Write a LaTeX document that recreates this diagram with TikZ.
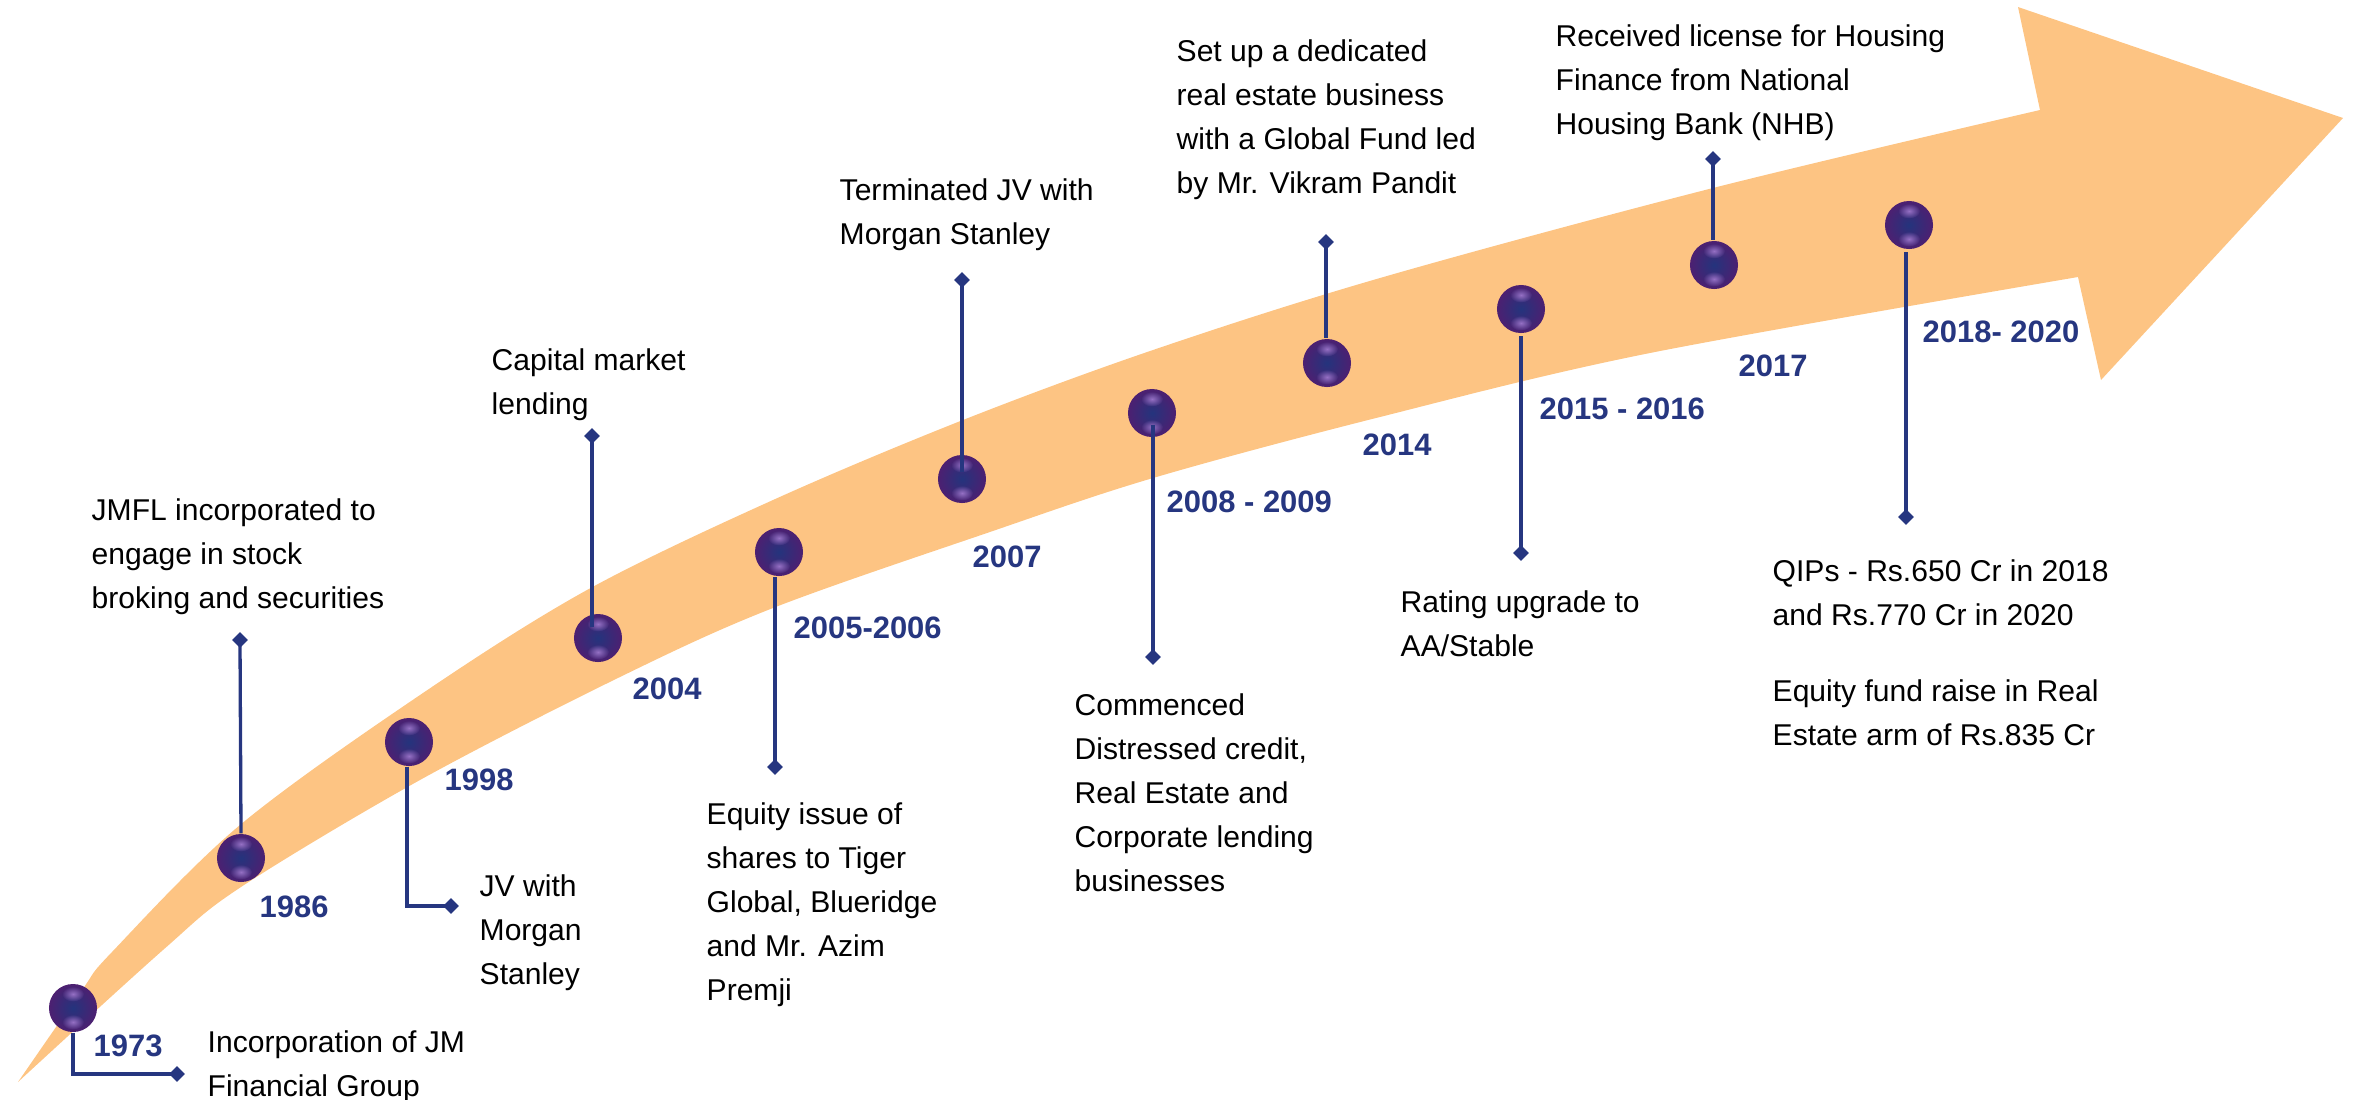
\documentclass[tikz,border=0pt]{standalone}
\usepackage{fontspec}
\setmainfont{Liberation Sans}
\usetikzlibrary{shapes.geometric,fadings}
\definecolor{bandorange}{RGB}{253,196,131}
\definecolor{navyline}{RGB}{38,54,128}
\definecolor{ballrim}{RGB}{80,30,112}
\definecolor{ballmid}{RGB}{36,52,125}
\definecolor{ballhi}{RGB}{165,125,210}
\newcommand\notefont{\fontsize{8.55pt}{12.5pt}\selectfont}
\newcommand\yearfont{\fontsize{8.8pt}{10pt}\selectfont\bfseries}
\tikzfading[name=softspot, inner color=transparent!15, outer color=transparent!100]
\tikzset{
  ball/.style={circle, minimum size=0.48cm, inner sep=0pt,
    path picture={
      \shade [inner color=ballmid, outer color=ballrim] (path picture bounding box.center) circle (0.26cm);
      \fill [ballhi, path fading=softspot] ([yshift=0.14cm]path picture bounding box.center) ellipse (0.11cm and 0.075cm);
      \fill [ballhi, path fading=softspot] ([yshift=-0.14cm]path picture bounding box.center) ellipse (0.11cm and 0.075cm);
    }},
  dmd/.style={diamond, fill=navyline, inner sep=0pt, minimum size=0.165cm},
  link/.style={draw=navyline, line width=0.033cm},
  year/.style={anchor=west, inner sep=0pt, font=\yearfont, text=navyline},
  note/.style={anchor=base west, align=left, inner sep=0pt, font=\notefont}
}
\begin{document}
\begin{tikzpicture}[x=0.01cm, y=-0.01cm]
\useasboundingbox (0,0) rectangle (2353,1099);
\fill [bandorange] plot [smooth, tension=0.55] coordinates {(18,1082) (82,990) (112,952) (240,825) (420,695) (587,590) (773,500) (963,420) (1153,350) (1380,278) (1713,188) (2040,110)}
  -- (2018,7) -- (2343,118) -- (2101,380)
  -- plot [smooth, tension=0.55] coordinates {(2078,277) (1650,353) (1380,417) (1153,478) (987,533) (773,608) (620,677) (420,780) (241,887) (163,950) (18,1082)} -- cycle;

\node [ball] (b1973) at (73,1008) {};
\node [ball] (b1986) at (241,858) {};
\node [ball] (b1998) at (409,742) {};
\node [ball] (b2004) at (598,638) {};
\node [ball] (b2006) at (779,552) {};
\node [ball] (b2007) at (962,479) {};
\node [ball] (b2009) at (1152,413) {};
\node [ball] (b2014) at (1327,363) {};
\node [ball] (b2016) at (1521,309) {};
\node [ball] (b2017) at (1714,265) {};
\node [ball] (b2020) at (1909,225) {};

\coordinate (d1973) at (177,1074);
\coordinate (d1986) at (240,640);
\coordinate (d1998) at (451,906);
\coordinate (d2004) at (592,436);
\coordinate (d2006) at (775,767);
\coordinate (d2007) at (962,280);
\coordinate (d2009) at (1153,657);
\coordinate (d2014) at (1326,242);
\coordinate (d2016) at (1521,553);
\coordinate (d2017) at (1713,159);
\coordinate (d2020) at (1906,517);

\draw [link] (b1973.south) |- (d1973);
\draw [link] (d1986) -- (b1986.north);
\draw [link] ([xshift=-0.02cm]b1998.south) |- (d1998);
\draw [link, shorten >=0.11cm] (d2004) -- (d2004 |- b2004.center);
\draw [link] (d2006) -- (d2006 |- b2006.south);
\draw [link, shorten >=0.07cm] (d2007) -- (d2007 |- b2007.center);
\draw [link, shorten >=0.12cm] (d2009) -- (d2009 |- b2009.center);
\draw [link] (d2014) -- (d2014 |- b2014.north);
\draw [link, shorten >=0.02cm] (d2016) -- (d2016 |- b2016.south);
\draw [link] (d2017) -- (d2017 |- b2017.north);
\draw [link, shorten >=0.02cm] (d2020) -- (d2020 |- b2020.south);

\foreach \d in {1973,1986,1998,2004,2006,2007,2009,2014,2016,2017,2020}
  \node [dmd] (m\d) at (d\d) {};

\node [year] (y1973) at (93,1046) {1973};
\node [year] (y1986) at (259,907) {1986};
\node [year] (y1998) at (444,780) {1998};
\node [year] (y2004) at (632,689) {2004};
\node [year] (y2006) at (793,628) {2005-2006};
\node [year] (y2007) at (972,557) {2007};
\node [year] (y2009) at (1166,502) {2008 - 2009};
\node [year] (y2014) at (1362,445) {2014};
\node [year] (y2016) at (1539,409) {2015 - 2016};
\node [year] (y2017) at (1738,366) {2017};
\node [year] (y2020) at (1922,332) {2018- 2020};

\node [note] (t1973) at (207,1096) {Incorporation of JM\\Financial Group};
\node [note] (t1986) at (91,608) {JMFL incorporated to\\engage in stock\\broking and securities};
\node [note] (t1998) at (479,984) {JV with\\Morgan\\Stanley};
\node [note] (t2004) at (491,414) {Capital market\\lending};
\node [note] (t2006) at (706,1000) {Equity issue of\\shares to Tiger\\Global, Blueridge\\and Mr. Azim\\Premji};
\node [note] (t2007) at (839,244) {Terminated JV with\\Morgan Stanley};
\node [note] (t2009) at (1074,891) {Commenced\\Distressed credit,\\Real Estate and\\Corporate lending\\businesses};
\node [note] (t2014) at (1176,193) {Set up a dedicated\\real estate business\\with a Global Fund led\\by Mr. Vikram Pandit};
\node [note] (t2016) at (1400,656) {Rating upgrade to\\AA/Stable};
\node [note] (t2017) at (1555,134) {Received license for Housing\\Finance from National\\Housing Bank (NHB)};
\node [note] (t2020) at (1772,745) {QIPs - Rs.650 Cr in 2018\\and Rs.770 Cr in 2020\\[0.32cm]Equity fund raise in Real\\Estate arm of Rs.835 Cr};
\end{tikzpicture}
\end{document}
